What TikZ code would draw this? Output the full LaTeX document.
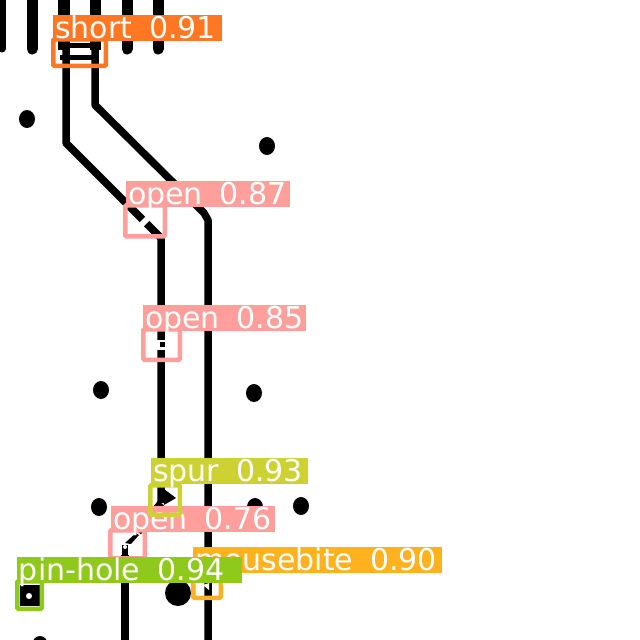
\documentclass[tikz,border=0pt]{standalone}
\usepackage{fontspec}
\setmainfont{DejaVu Sans}
\definecolor{shortcol}{HTML}{FF7722}
\definecolor{opencol}{HTML}{FF9F9C}
\definecolor{spurcol}{HTML}{CDD232}
\definecolor{bitecol}{HTML}{FFB21D}
\definecolor{pincol}{HTML}{8FC91B}
\tikzset{
    trace/.style={line width=7.5pt, line join=round},
    tag/.style={fill=#1, text=white, anchor=north west, inner xsep=2pt, inner ysep=0pt, outer sep=0pt,
        align=left, text height=23pt, text depth=3pt, font=\fontsize{30}{30}\selectfont,
        execute at begin node={\spaceskip=17pt\relax}},
    frame/.style={draw=#1, line width=4.5pt, rounded corners=1pt, anchor=north west, inner sep=0pt},
}
\begin{document}
\begin{tikzpicture}[x=1pt,y=-1pt]
    \useasboundingbox (0,0) rectangle (640,640);
    \fill[white] (0,0) rectangle (640,640);
    % pads at the top edge
    \foreach \x/\w in {2/7,32/11,127/11,158/11}
        \draw[line width=\w pt, line cap=round] (\x,-6) -- (\x,49);
    \fill (58,0) rectangle (70,50);
    \fill (90,0) rectangle (101,50);
    % the two long tracks
    \draw[trace] (66,50) -- (66,143) -- (161,238) -- (161,503);
    \draw[trace] (95,50) -- (95,105) -- (204,213) -- (208,220) -- (208,640);
    \draw[trace] (161,503) -- (138,532);
    \draw[trace] (125,555) -- (125,640);
    % short
    \fill (58,43) rectangle (100,48);
    \fill (60,55) rectangle (98,60);
    % breaks in the tracks
    \draw[white, line width=10pt] (143,219) -- (147,223);
    \fill[white] (155,340) rectangle (167,342);
    \fill[white] (155,347) rectangle (167,350);
    \fill[white] (157,342) rectangle (160,347);
    \fill (136,533) -- (139,535) -- (131,544) -- (125,543) -- cycle;
    \fill (122,545) rectangle (128,556);
    \fill[white] (125,547) circle (2);
    % holes
    \foreach \x/\y in {27/119,267/146,101/390,254/393,99/507,255/507,301/506,40/645}
        \fill (\x,\y) ellipse (8 and 9);
    \fill (178,593) circle (13);
    % spur
    \fill (164,489) -- (176,498) -- (164,505) -- cycle;
    % pin-hole
    \fill (20,585) rectangle (40,606);
    \fill[white] (29,596) circle (3);
    % mousebite
    \fill[white] (203,585) -- (209,583) -- (209,590) -- cycle;

    \node[frame=shortcol, minimum width=52.5pt, minimum height=26.5pt] (boxshort) at (51,37) {};
    \node[tag=shortcol, text width=165pt] (tagshort) at (53,15) {\mbox{short 0.91}};

    \node[frame=opencol, minimum width=39.5pt, minimum height=31pt] (boxopena) at (123,203) {};
    \node[tag=opencol, text width=160pt] (tagopena) at (126,181) {\mbox{open 0.87}};

    \node[frame=opencol, minimum width=36.5pt, minimum height=30.5pt] (boxopenb) at (141,327) {};
    \node[tag=opencol, text width=159pt] (tagopenb) at (143,305) {\mbox{open 0.85}};

    \node[frame=bitecol, minimum width=27.5pt, minimum height=26.5pt] (boxbite) at (191,569) {};
    \node[tag=bitecol, text width=245pt] (tagbite) at (193,547) {\mbox{mousebite 0.90}};

    \node[frame=opencol, minimum width=34.5pt, minimum height=28pt] (boxopenc) at (108,528) {};
    \node[tag=opencol, text width=160pt] (tagopenc) at (111,506) {\mbox{open 0.76}};

    \node[frame=spurcol, minimum width=29.5pt, minimum height=29.5pt] (boxspur) at (148,483) {};
    \node[tag=spurcol, text width=153pt] (tagspur) at (151,458) {\mbox{spur 0.93}};

    \node[frame=pincol, minimum width=24.5pt, minimum height=27.5pt] (boxpin) at (15,579) {};
    \node[tag=pincol, text width=221pt] (tagpin) at (17,557) {\mbox{pin-hole 0.94}};
\end{tikzpicture}
\end{document}
